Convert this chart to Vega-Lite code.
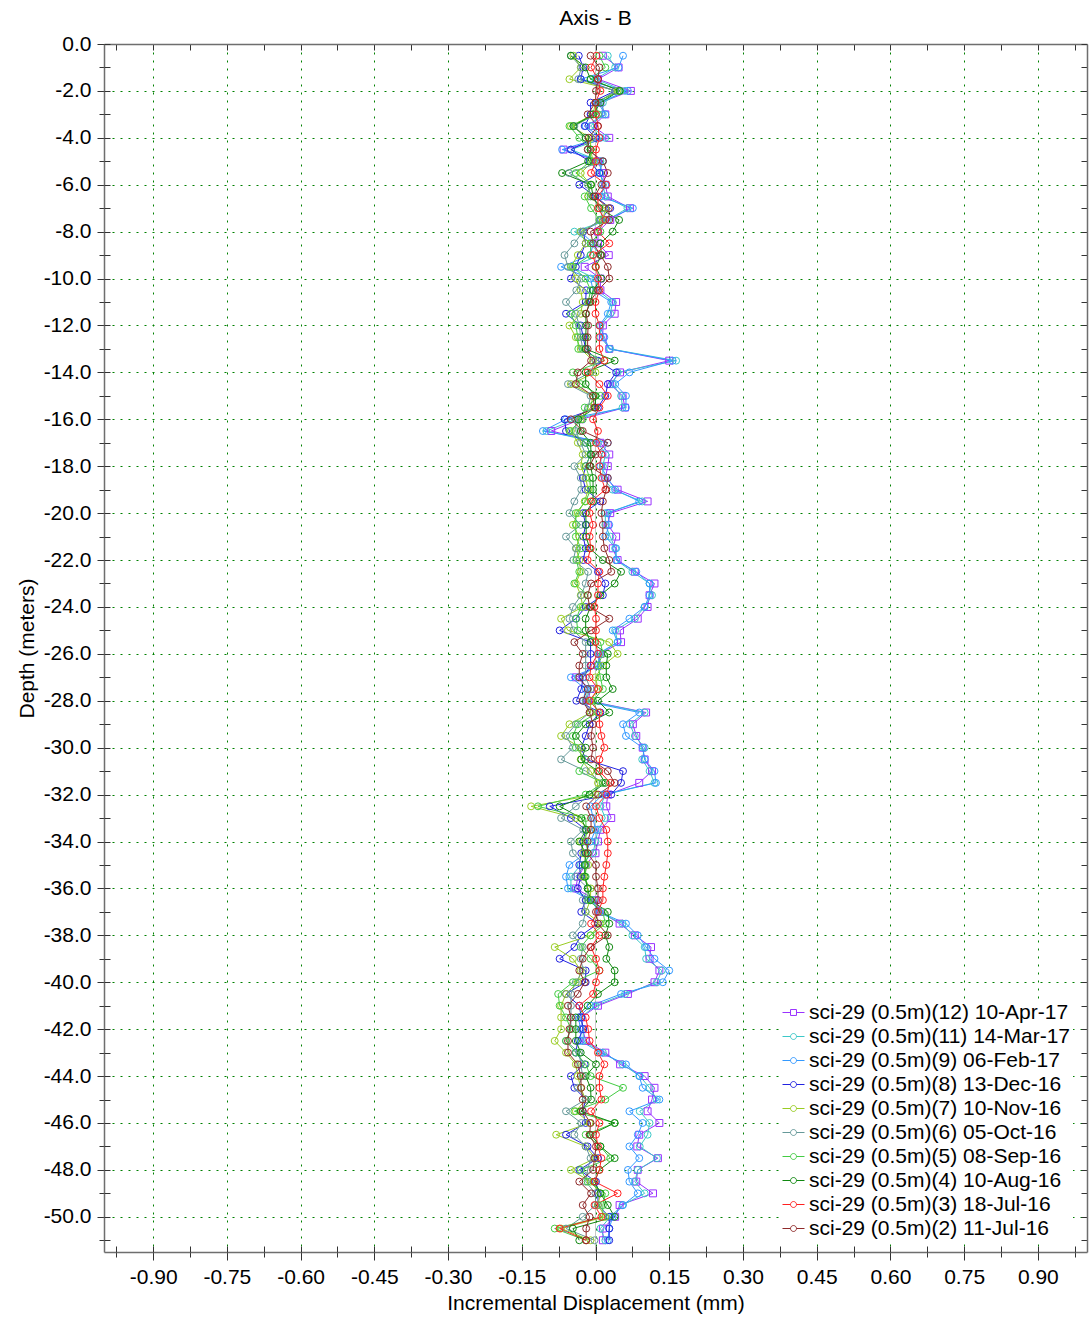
{
"$schema":"https://vega.github.io/schema/vega-lite/v6.json",
"width":983,"height":1208,
"autosize":{"type":"none"},
"padding":{"left":104,"top":44,"right":2,"bottom":66},
"background":"white",
"title":{"text":"Axis - B","fontSize":21,"fontWeight":"normal","font":"Liberation Sans","color":"#000","offset":4,"anchor":"middle"},
"config":{"font":"Liberation Sans","view":{"stroke":null},
"locale":{"number":{"decimal":".","thousands":",","grouping":[3],"currency":["$",""],"minus":"-"}},
"axis":{"labelFont":"Liberation Sans","labelFontSize":21,"labelColor":"#000","titleFont":"Liberation Sans","titleFontSize":21,"titleFontWeight":"normal","titleColor":"#000","tickColor":"#333","domainColor":"#6e6e6e","gridColor":"#008000","gridDash":[2,6],"gridOpacity":1,"grid":false,"labelFlush":false,"labelOverlap":false},
"legend":{"orient":"none","legendX":676,"legendY":955,"title":null,"symbolType":"M-1,0H-0.27M0.27,0H1M0.27,0A0.27,0.27,0,1,1,-0.27,0A0.27,0.27,0,1,1,0.27,0Z","symbolSize":484,"symbolStrokeWidth":1,"labelFontSize":21,"labelFont":"Liberation Sans","labelColor":"#000","rowPadding":2,"labelOffset":4,"fillColor":"white","padding":2,"labelLimit":500}},
"datasets":{
"series":[{"s":12,"name":"sci-29 (0.5m)(12) 10-Apr-17"},{"s":11,"name":"sci-29 (0.5m)(11) 14-Mar-17"},{"s":9,"name":"sci-29 (0.5m)(9) 06-Feb-17"},{"s":8,"name":"sci-29 (0.5m)(8) 13-Dec-16"},{"s":7,"name":"sci-29 (0.5m)(7) 10-Nov-16"},{"s":6,"name":"sci-29 (0.5m)(6) 05-Oct-16"},{"s":5,"name":"sci-29 (0.5m)(5) 08-Sep-16"},{"s":4,"name":"sci-29 (0.5m)(4) 10-Aug-16"},{"s":3,"name":"sci-29 (0.5m)(3) 18-Jul-16"},{"s":2,"name":"sci-29 (0.5m)(2) 11-Jul-16"}],
"pts":[
{"s":12,"d":-0.5,"v":0.015},{"s":12,"d":-1,"v":0.047},{"s":12,"d":-1.5,"v":0.005},{"s":12,"d":-2,"v":0.072},{"s":12,"d":-2.5,"v":0.01},{"s":12,"d":-3,"v":0.02},{"s":12,"d":-3.5,"v":-0.005},{"s":12,"d":-4,"v":0.028},{"s":12,"d":-4.5,"v":-0.065},{"s":12,"d":-5,"v":0.005},
{"s":12,"d":-5.5,"v":0.015},{"s":12,"d":-6,"v":0.02},{"s":12,"d":-6.5,"v":0.025},{"s":12,"d":-7,"v":0.07},{"s":12,"d":-7.5,"v":0.03},{"s":12,"d":-8,"v":0.005},{"s":12,"d":-8.5,"v":0.005},{"s":12,"d":-9,"v":0.027},{"s":12,"d":-9.5,"v":-0.022},{"s":12,"d":-10,"v":0.01},
{"s":12,"d":-10.5,"v":0.01},{"s":12,"d":-11,"v":0.042},{"s":12,"d":-11.5,"v":0.039},{"s":12,"d":-12,"v":0.015},{"s":12,"d":-12.5,"v":0.015},{"s":12,"d":-13,"v":0.028},{"s":12,"d":-13.5,"v":0.15},{"s":12,"d":-14,"v":0.05},{"s":12,"d":-14.5,"v":0.03},{"s":12,"d":-15,"v":0.055},
{"s":12,"d":-15.5,"v":0.06},{"s":12,"d":-16,"v":-0.03},{"s":12,"d":-16.5,"v":-0.09},{"s":12,"d":-17,"v":0.01},{"s":12,"d":-17.5,"v":0.028},{"s":12,"d":-18,"v":0.025},{"s":12,"d":-18.5,"v":0.02},{"s":12,"d":-19,"v":0.045},{"s":12,"d":-19.5,"v":0.106},{"s":12,"d":-20,"v":0.03},
{"s":12,"d":-20.5,"v":0.025},{"s":12,"d":-21,"v":0.042},{"s":12,"d":-21.5,"v":0.035},{"s":12,"d":-22,"v":0.045},{"s":12,"d":-22.5,"v":0.08},{"s":12,"d":-23,"v":0.12},{"s":12,"d":-23.5,"v":0.11},{"s":12,"d":-24,"v":0.106},{"s":12,"d":-24.5,"v":0.086},{"s":12,"d":-25,"v":0.05},
{"s":12,"d":-25.5,"v":0.052},{"s":12,"d":-26,"v":0.01},{"s":12,"d":-26.5,"v":0.005},{"s":12,"d":-27,"v":-0.04},{"s":12,"d":-27.5,"v":-0.01},{"s":12,"d":-28,"v":-0.015},{"s":12,"d":-28.5,"v":0.103},{"s":12,"d":-29,"v":0.076},{"s":12,"d":-29.5,"v":0.083},{"s":12,"d":-30,"v":0.096},
{"s":12,"d":-30.5,"v":0.1},{"s":12,"d":-31,"v":0.115},{"s":12,"d":-31.5,"v":0.089},{"s":12,"d":-32,"v":0.025},{"s":12,"d":-32.5,"v":0.022},{"s":12,"d":-33,"v":0.032},{"s":12,"d":-33.5,"v":0.01},{"s":12,"d":-34,"v":0.005},{"s":12,"d":-34.5,"v":0},{"s":12,"d":-35,"v":-0.02},
{"s":12,"d":-35.5,"v":-0.036},{"s":12,"d":-36,"v":-0.04},{"s":12,"d":-36.5,"v":0},{"s":12,"d":-37,"v":0.01},{"s":12,"d":-37.5,"v":0.049},{"s":12,"d":-38,"v":0.08},{"s":12,"d":-38.5,"v":0.113},{"s":12,"d":-39,"v":0.11},{"s":12,"d":-39.5,"v":0.13},{"s":12,"d":-40,"v":0.12},
{"s":12,"d":-40.5,"v":0.066},{"s":12,"d":-41,"v":0.005},{"s":12,"d":-41.5,"v":-0.029},{"s":12,"d":-42,"v":-0.026},{"s":12,"d":-42.5,"v":-0.02},{"s":12,"d":-43,"v":0.02},{"s":12,"d":-43.5,"v":0.05},{"s":12,"d":-44,"v":0.1},{"s":12,"d":-44.5,"v":0.12},{"s":12,"d":-45,"v":0.115},
{"s":12,"d":-45.5,"v":0.106},{"s":12,"d":-46,"v":0.13},{"s":12,"d":-46.5,"v":0.089},{"s":12,"d":-47,"v":0.085},{"s":12,"d":-47.5,"v":0.127},{"s":12,"d":-48,"v":0.086},{"s":12,"d":-48.5,"v":0.083},{"s":12,"d":-49,"v":0.117},{"s":12,"d":-49.5,"v":0.049},{"s":12,"d":-50,"v":0.04},
{"s":12,"d":-50.5,"v":0.015},{"s":12,"d":-51,"v":0.015},
{"s":11,"d":-0.5,"v":0.025},{"s":11,"d":-1,"v":0.04},{"s":11,"d":-1.5,"v":0},{"s":11,"d":-2,"v":0.06},{"s":11,"d":-2.5,"v":0.015},{"s":11,"d":-3,"v":0.015},{"s":11,"d":-3.5,"v":-0.01},{"s":11,"d":-4,"v":0.02},{"s":11,"d":-4.5,"v":-0.05},{"s":11,"d":-5,"v":0.01},
{"s":11,"d":-5.5,"v":0.01},{"s":11,"d":-6,"v":0.015},{"s":11,"d":-6.5,"v":0.02},{"s":11,"d":-7,"v":0.065},{"s":11,"d":-7.5,"v":0.025},{"s":11,"d":-8,"v":-0.043},{"s":11,"d":-8.5,"v":-0.01},{"s":11,"d":-9,"v":0.01},{"s":11,"d":-9.5,"v":-0.05},{"s":11,"d":-10,"v":0},
{"s":11,"d":-10.5,"v":0.005},{"s":11,"d":-11,"v":0.035},{"s":11,"d":-11.5,"v":0.03},{"s":11,"d":-12,"v":0.01},{"s":11,"d":-12.5,"v":0.01},{"s":11,"d":-13,"v":0.03},{"s":11,"d":-13.5,"v":0.164},{"s":11,"d":-14,"v":0.045},{"s":11,"d":-14.5,"v":0.035},{"s":11,"d":-15,"v":0.052},
{"s":11,"d":-15.5,"v":0.055},{"s":11,"d":-16,"v":-0.04},{"s":11,"d":-16.5,"v":-0.1},{"s":11,"d":-17,"v":0.005},{"s":11,"d":-17.5,"v":0.02},{"s":11,"d":-18,"v":0.015},{"s":11,"d":-18.5,"v":0.015},{"s":11,"d":-19,"v":0.035},{"s":11,"d":-19.5,"v":0.095},{"s":11,"d":-20,"v":0.02},
{"s":11,"d":-20.5,"v":0.02},{"s":11,"d":-21,"v":0.03},{"s":11,"d":-21.5,"v":0.04},{"s":11,"d":-22,"v":0.042},{"s":11,"d":-22.5,"v":0.075},{"s":11,"d":-23,"v":0.11},{"s":11,"d":-23.5,"v":0.115},{"s":11,"d":-24,"v":0.1},{"s":11,"d":-24.5,"v":0.08},{"s":11,"d":-25,"v":0.04},
{"s":11,"d":-25.5,"v":0.045},{"s":11,"d":-26,"v":0.008},{"s":11,"d":-26.5,"v":0.005},{"s":11,"d":-27,"v":-0.035},{"s":11,"d":-27.5,"v":-0.015},{"s":11,"d":-28,"v":-0.02},{"s":11,"d":-28.5,"v":0.1},{"s":11,"d":-29,"v":0.07},{"s":11,"d":-29.5,"v":0.08},{"s":11,"d":-30,"v":0.1},
{"s":11,"d":-30.5,"v":0.095},{"s":11,"d":-31,"v":0.11},{"s":11,"d":-31.5,"v":0.12},{"s":11,"d":-32,"v":0.02},{"s":11,"d":-32.5,"v":0.01},{"s":11,"d":-33,"v":0.02},{"s":11,"d":-33.5,"v":0.005},{"s":11,"d":-34,"v":0},{"s":11,"d":-34.5,"v":-0.005},{"s":11,"d":-35,"v":-0.03},
{"s":11,"d":-35.5,"v":-0.05},{"s":11,"d":-36,"v":-0.05},{"s":11,"d":-36.5,"v":-0.005},{"s":11,"d":-37,"v":0.005},{"s":11,"d":-37.5,"v":0.055},{"s":11,"d":-38,"v":0.075},{"s":11,"d":-38.5,"v":0.1},{"s":11,"d":-39,"v":0.103},{"s":11,"d":-39.5,"v":0.135},{"s":11,"d":-40,"v":0.125},
{"s":11,"d":-40.5,"v":0.06},{"s":11,"d":-41,"v":0},{"s":11,"d":-41.5,"v":-0.03},{"s":11,"d":-42,"v":-0.025},{"s":11,"d":-42.5,"v":-0.025},{"s":11,"d":-43,"v":0.015},{"s":11,"d":-43.5,"v":0.055},{"s":11,"d":-44,"v":0.09},{"s":11,"d":-44.5,"v":0.11},{"s":11,"d":-45,"v":0.125},
{"s":11,"d":-45.5,"v":0.09},{"s":11,"d":-46,"v":0.11},{"s":11,"d":-46.5,"v":0.106},{"s":11,"d":-47,"v":0.09},{"s":11,"d":-47.5,"v":0.125},{"s":11,"d":-48,"v":0.086},{"s":11,"d":-48.5,"v":0.08},{"s":11,"d":-49,"v":0.1},{"s":11,"d":-49.5,"v":0.055},{"s":11,"d":-50,"v":0.03},
{"s":11,"d":-50.5,"v":0.01},{"s":11,"d":-51,"v":0.02},
{"s":9,"d":-0.5,"v":0.056},{"s":9,"d":-1,"v":0.047},{"s":9,"d":-1.5,"v":-0.03},{"s":9,"d":-2,"v":0.066},{"s":9,"d":-2.5,"v":0.005},{"s":9,"d":-3,"v":0.02},{"s":9,"d":-3.5,"v":-0.02},{"s":9,"d":-4,"v":0.01},{"s":9,"d":-4.5,"v":-0.068},{"s":9,"d":-5,"v":0.015},
{"s":9,"d":-5.5,"v":0.008},{"s":9,"d":-6,"v":0.02},{"s":9,"d":-6.5,"v":0.01},{"s":9,"d":-7,"v":0.076},{"s":9,"d":-7.5,"v":0.02},{"s":9,"d":-8,"v":-0.03},{"s":9,"d":-8.5,"v":-0.005},{"s":9,"d":-9,"v":-0.01},{"s":9,"d":-9.5,"v":-0.07},{"s":9,"d":-10,"v":-0.01},
{"s":9,"d":-10.5,"v":-0.005},{"s":9,"d":-11,"v":0.032},{"s":9,"d":-11.5,"v":0.025},{"s":9,"d":-12,"v":0.008},{"s":9,"d":-12.5,"v":0.018},{"s":9,"d":-13,"v":0.028},{"s":9,"d":-13.5,"v":0.157},{"s":9,"d":-14,"v":0.069},{"s":9,"d":-14.5,"v":0.04},{"s":9,"d":-15,"v":0.062},
{"s":9,"d":-15.5,"v":0.062},{"s":9,"d":-16,"v":-0.06},{"s":9,"d":-16.5,"v":-0.107},{"s":9,"d":-17,"v":0.025},{"s":9,"d":-17.5,"v":0.012},{"s":9,"d":-18,"v":0.01},{"s":9,"d":-18.5,"v":0.025},{"s":9,"d":-19,"v":0.04},{"s":9,"d":-19.5,"v":0.089},{"s":9,"d":-20,"v":0.025},
{"s":9,"d":-20.5,"v":0.028},{"s":9,"d":-21,"v":0.02},{"s":9,"d":-21.5,"v":0.042},{"s":9,"d":-22,"v":0.042},{"s":9,"d":-22.5,"v":0.083},{"s":9,"d":-23,"v":0.11},{"s":9,"d":-23.5,"v":0.11},{"s":9,"d":-24,"v":0.1},{"s":9,"d":-24.5,"v":0.069},{"s":9,"d":-25,"v":0.035},
{"s":9,"d":-25.5,"v":0.045},{"s":9,"d":-26,"v":0.005},{"s":9,"d":-26.5,"v":0.01},{"s":9,"d":-27,"v":-0.05},{"s":9,"d":-27.5,"v":-0.02},{"s":9,"d":-28,"v":-0.025},{"s":9,"d":-28.5,"v":0.089},{"s":9,"d":-29,"v":0.056},{"s":9,"d":-29.5,"v":0.062},{"s":9,"d":-30,"v":0.096},
{"s":9,"d":-30.5,"v":0.1},{"s":9,"d":-31,"v":0.12},{"s":9,"d":-31.5,"v":0.123},{"s":9,"d":-32,"v":0.015},{"s":9,"d":-32.5,"v":-0.01},{"s":9,"d":-33,"v":-0.005},{"s":9,"d":-33.5,"v":0},{"s":9,"d":-34,"v":-0.01},{"s":9,"d":-34.5,"v":-0.02},{"s":9,"d":-35,"v":-0.053},
{"s":9,"d":-35.5,"v":-0.06},{"s":9,"d":-36,"v":-0.056},{"s":9,"d":-36.5,"v":-0.01},{"s":9,"d":-37,"v":0.008},{"s":9,"d":-37.5,"v":0.062},{"s":9,"d":-38,"v":0.086},{"s":9,"d":-38.5,"v":0.103},{"s":9,"d":-39,"v":0.12},{"s":9,"d":-39.5,"v":0.15},{"s":9,"d":-40,"v":0.137},
{"s":9,"d":-40.5,"v":0.052},{"s":9,"d":-41,"v":-0.01},{"s":9,"d":-41.5,"v":-0.035},{"s":9,"d":-42,"v":-0.03},{"s":9,"d":-42.5,"v":-0.03},{"s":9,"d":-43,"v":0.01},{"s":9,"d":-43.5,"v":0.062},{"s":9,"d":-44,"v":0.089},{"s":9,"d":-44.5,"v":0.096},{"s":9,"d":-45,"v":0.13},
{"s":9,"d":-45.5,"v":0.069},{"s":9,"d":-46,"v":0.096},{"s":9,"d":-46.5,"v":0.086},{"s":9,"d":-47,"v":0.069},{"s":9,"d":-47.5,"v":0.089},{"s":9,"d":-48,"v":0.066},{"s":9,"d":-48.5,"v":0.069},{"s":9,"d":-49,"v":0.086},{"s":9,"d":-49.5,"v":0.056},{"s":9,"d":-50,"v":0.035},
{"s":9,"d":-50.5,"v":0.028},{"s":9,"d":-51,"v":0.025},
{"s":8,"d":-0.5,"v":-0.034},{"s":8,"d":-1,"v":-0.025},{"s":8,"d":-1.5,"v":-0.03},{"s":8,"d":-2,"v":0.04},{"s":8,"d":-2.5,"v":-0.01},{"s":8,"d":-3,"v":-0.01},{"s":8,"d":-3.5,"v":-0.022},{"s":8,"d":-4,"v":0},{"s":8,"d":-4.5,"v":-0.05},{"s":8,"d":-5,"v":-0.012},
{"s":8,"d":-5.5,"v":0.008},{"s":8,"d":-6,"v":-0.033},{"s":8,"d":-6.5,"v":0},{"s":8,"d":-7,"v":0.03},{"s":8,"d":-7.5,"v":0.01},{"s":8,"d":-8,"v":-0.025},{"s":8,"d":-8.5,"v":-0.02},{"s":8,"d":-9,"v":-0.03},{"s":8,"d":-9.5,"v":-0.04},{"s":8,"d":-10,"v":-0.05},
{"s":8,"d":-10.5,"v":-0.019},{"s":8,"d":-11,"v":-0.02},{"s":8,"d":-11.5,"v":-0.06},{"s":8,"d":-12,"v":-0.03},{"s":8,"d":-12.5,"v":-0.025},{"s":8,"d":-13,"v":-0.02},{"s":8,"d":-13.5,"v":0.005},{"s":8,"d":-14,"v":0.042},{"s":8,"d":-14.5,"v":0.025},{"s":8,"d":-15,"v":0.02},
{"s":8,"d":-15.5,"v":0.005},{"s":8,"d":-16,"v":-0.063},{"s":8,"d":-16.5,"v":-0.06},{"s":8,"d":-17,"v":-0.02},{"s":8,"d":-17.5,"v":-0.01},{"s":8,"d":-18,"v":-0.02},{"s":8,"d":-18.5,"v":-0.026},{"s":8,"d":-19,"v":-0.02},{"s":8,"d":-19.5,"v":0.01},{"s":8,"d":-20,"v":-0.025},
{"s":8,"d":-20.5,"v":-0.02},{"s":8,"d":-21,"v":-0.025},{"s":8,"d":-21.5,"v":-0.02},{"s":8,"d":-22,"v":-0.025},{"s":8,"d":-22.5,"v":0.005},{"s":8,"d":-23,"v":0.02},{"s":8,"d":-23.5,"v":0.015},{"s":8,"d":-24,"v":-0.02},{"s":8,"d":-24.5,"v":-0.04},{"s":8,"d":-25,"v":-0.073},
{"s":8,"d":-25.5,"v":-0.01},{"s":8,"d":-26,"v":-0.01},{"s":8,"d":-26.5,"v":-0.01},{"s":8,"d":-27,"v":-0.025},{"s":8,"d":-27.5,"v":-0.029},{"s":8,"d":-28,"v":-0.039},{"s":8,"d":-28.5,"v":0.01},{"s":8,"d":-29,"v":-0.012},{"s":8,"d":-29.5,"v":-0.02},{"s":8,"d":-30,"v":-0.029},
{"s":8,"d":-30.5,"v":-0.02},{"s":8,"d":-31,"v":0.056},{"s":8,"d":-31.5,"v":0.052},{"s":8,"d":-32,"v":0.032},{"s":8,"d":-32.5,"v":-0.093},{"s":8,"d":-33,"v":-0.05},{"s":8,"d":-33.5,"v":-0.02},{"s":8,"d":-34,"v":-0.025},{"s":8,"d":-34.5,"v":-0.029},{"s":8,"d":-35,"v":-0.033},
{"s":8,"d":-35.5,"v":-0.03},{"s":8,"d":-36,"v":-0.036},{"s":8,"d":-36.5,"v":-0.02},{"s":8,"d":-37,"v":-0.029},{"s":8,"d":-37.5,"v":0.005},{"s":8,"d":-38,"v":-0.029},{"s":8,"d":-38.5,"v":-0.043},{"s":8,"d":-39,"v":-0.073},{"s":8,"d":-39.5,"v":-0.02},{"s":8,"d":-40,"v":-0.02},
{"s":8,"d":-40.5,"v":-0.06},{"s":8,"d":-41,"v":-0.033},{"s":8,"d":-41.5,"v":-0.029},{"s":8,"d":-42,"v":-0.025},{"s":8,"d":-42.5,"v":-0.036},{"s":8,"d":-43,"v":-0.04},{"s":8,"d":-43.5,"v":-0.022},{"s":8,"d":-44,"v":-0.05},{"s":8,"d":-44.5,"v":-0.043},{"s":8,"d":-45,"v":-0.02},
{"s":8,"d":-45.5,"v":-0.026},{"s":8,"d":-46,"v":-0.02},{"s":8,"d":-46.5,"v":-0.06},{"s":8,"d":-47,"v":-0.016},{"s":8,"d":-47.5,"v":0.005},{"s":8,"d":-48,"v":-0.033},{"s":8,"d":-48.5,"v":0.001},{"s":8,"d":-49,"v":0.005},{"s":8,"d":-49.5,"v":0.005},{"s":8,"d":-50,"v":0.028},
{"s":8,"d":-50.5,"v":0.028},{"s":8,"d":-51,"v":0.028},
{"s":7,"d":-0.5,"v":-0.045},{"s":7,"d":-1,"v":-0.03},{"s":7,"d":-1.5,"v":-0.053},{"s":7,"d":-2,"v":0.045},{"s":7,"d":-2.5,"v":0},{"s":7,"d":-3,"v":-0.005},{"s":7,"d":-3.5,"v":-0.05},{"s":7,"d":-4,"v":-0.01},{"s":7,"d":-4.5,"v":-0.01},{"s":7,"d":-5,"v":-0.005},
{"s":7,"d":-5.5,"v":-0.03},{"s":7,"d":-6,"v":-0.01},{"s":7,"d":-6.5,"v":-0.015},{"s":7,"d":-7,"v":0.02},{"s":7,"d":-7.5,"v":0.015},{"s":7,"d":-8,"v":-0.03},{"s":7,"d":-8.5,"v":-0.02},{"s":7,"d":-9,"v":-0.036},{"s":7,"d":-9.5,"v":-0.05},{"s":7,"d":-10,"v":-0.04},
{"s":7,"d":-10.5,"v":-0.03},{"s":7,"d":-11,"v":-0.026},{"s":7,"d":-11.5,"v":-0.03},{"s":7,"d":-12,"v":-0.053},{"s":7,"d":-12.5,"v":-0.04},{"s":7,"d":-13,"v":-0.03},{"s":7,"d":-13.5,"v":-0.005},{"s":7,"d":-14,"v":0},{"s":7,"d":-14.5,"v":-0.05},{"s":7,"d":-15,"v":-0.005},
{"s":7,"d":-15.5,"v":-0.01},{"s":7,"d":-16,"v":-0.03},{"s":7,"d":-16.5,"v":-0.05},{"s":7,"d":-17,"v":-0.036},{"s":7,"d":-17.5,"v":-0.026},{"s":7,"d":-18,"v":-0.03},{"s":7,"d":-18.5,"v":-0.02},{"s":7,"d":-19,"v":-0.015},{"s":7,"d":-19.5,"v":-0.022},{"s":7,"d":-20,"v":-0.036},
{"s":7,"d":-20.5,"v":-0.046},{"s":7,"d":-21,"v":-0.033},{"s":7,"d":-21.5,"v":-0.039},{"s":7,"d":-22,"v":-0.033},{"s":7,"d":-22.5,"v":-0.03},{"s":7,"d":-23,"v":-0.04},{"s":7,"d":-23.5,"v":-0.03},{"s":7,"d":-24,"v":-0.026},{"s":7,"d":-24.5,"v":-0.07},{"s":7,"d":-25,"v":-0.056},
{"s":7,"d":-25.5,"v":0.028},{"s":7,"d":-26,"v":0.045},{"s":7,"d":-26.5,"v":0.015},{"s":7,"d":-27,"v":0},{"s":7,"d":-27.5,"v":0.005},{"s":7,"d":-28,"v":-0.01},{"s":7,"d":-28.5,"v":-0.01},{"s":7,"d":-29,"v":-0.053},{"s":7,"d":-29.5,"v":-0.07},{"s":7,"d":-30,"v":-0.03},
{"s":7,"d":-30.5,"v":-0.03},{"s":7,"d":-31,"v":-0.01},{"s":7,"d":-31.5,"v":0.005},{"s":7,"d":-32,"v":0},{"s":7,"d":-32.5,"v":-0.131},{"s":7,"d":-33,"v":-0.04},{"s":7,"d":-33.5,"v":-0.01},{"s":7,"d":-34,"v":-0.03},{"s":7,"d":-34.5,"v":-0.025},{"s":7,"d":-35,"v":-0.015},
{"s":7,"d":-35.5,"v":-0.025},{"s":7,"d":-36,"v":-0.01},{"s":7,"d":-36.5,"v":-0.01},{"s":7,"d":-37,"v":-0.02},{"s":7,"d":-37.5,"v":0.01},{"s":7,"d":-38,"v":-0.01},{"s":7,"d":-38.5,"v":-0.083},{"s":7,"d":-39,"v":-0.046},{"s":7,"d":-39.5,"v":-0.03},{"s":7,"d":-40,"v":-0.036},
{"s":7,"d":-40.5,"v":-0.06},{"s":7,"d":-41,"v":-0.07},{"s":7,"d":-41.5,"v":-0.07},{"s":7,"d":-42,"v":-0.07},{"s":7,"d":-42.5,"v":-0.083},{"s":7,"d":-43,"v":-0.06},{"s":7,"d":-43.5,"v":-0.04},{"s":7,"d":-44,"v":-0.036},{"s":7,"d":-44.5,"v":-0.03},{"s":7,"d":-45,"v":-0.02},
{"s":7,"d":-45.5,"v":-0.04},{"s":7,"d":-46,"v":-0.012},{"s":7,"d":-46.5,"v":-0.08},{"s":7,"d":-47,"v":-0.02},{"s":7,"d":-47.5,"v":0},{"s":7,"d":-48,"v":-0.05},{"s":7,"d":-48.5,"v":-0.01},{"s":7,"d":-49,"v":0.01},{"s":7,"d":-49.5,"v":0.005},{"s":7,"d":-50,"v":0.02},
{"s":7,"d":-50.5,"v":-0.07},{"s":7,"d":-51,"v":-0.01},
{"s":6,"d":-0.5,"v":-0.05},{"s":6,"d":-1,"v":-0.029},{"s":6,"d":-1.5,"v":-0.035},{"s":6,"d":-2,"v":0.04},{"s":6,"d":-2.5,"v":0.005},{"s":6,"d":-3,"v":0},{"s":6,"d":-3.5,"v":-0.043},{"s":6,"d":-4,"v":-0.02},{"s":6,"d":-4.5,"v":-0.015},{"s":6,"d":-5,"v":0.015},
{"s":6,"d":-5.5,"v":-0.054},{"s":6,"d":-6,"v":-0.015},{"s":6,"d":-6.5,"v":-0.01},{"s":6,"d":-7,"v":0.015},{"s":6,"d":-7.5,"v":0.01},{"s":6,"d":-8,"v":-0.026},{"s":6,"d":-8.5,"v":-0.043},{"s":6,"d":-9,"v":-0.063},{"s":6,"d":-9.5,"v":-0.056},{"s":6,"d":-10,"v":-0.029},
{"s":6,"d":-10.5,"v":-0.039},{"s":6,"d":-11,"v":-0.06},{"s":6,"d":-11.5,"v":-0.04},{"s":6,"d":-12,"v":-0.033},{"s":6,"d":-12.5,"v":-0.03},{"s":6,"d":-13,"v":-0.026},{"s":6,"d":-13.5,"v":0},{"s":6,"d":-14,"v":-0.01},{"s":6,"d":-14.5,"v":-0.056},{"s":6,"d":-15,"v":-0.01},
{"s":6,"d":-15.5,"v":-0.015},{"s":6,"d":-16,"v":-0.04},{"s":6,"d":-16.5,"v":-0.04},{"s":6,"d":-17,"v":-0.03},{"s":6,"d":-17.5,"v":-0.02},{"s":6,"d":-18,"v":-0.043},{"s":6,"d":-18.5,"v":-0.03},{"s":6,"d":-19,"v":-0.029},{"s":6,"d":-19.5,"v":-0.043},{"s":6,"d":-20,"v":-0.053},
{"s":6,"d":-20.5,"v":-0.03},{"s":6,"d":-21,"v":-0.06},{"s":6,"d":-21.5,"v":-0.04},{"s":6,"d":-22,"v":-0.045},{"s":6,"d":-22.5,"v":-0.015},{"s":6,"d":-23,"v":-0.02},{"s":6,"d":-23.5,"v":-0.029},{"s":6,"d":-24,"v":-0.046},{"s":6,"d":-24.5,"v":-0.053},{"s":6,"d":-25,"v":-0.045},
{"s":6,"d":-25.5,"v":-0.02},{"s":6,"d":-26,"v":-0.02},{"s":6,"d":-26.5,"v":-0.02},{"s":6,"d":-27,"v":-0.02},{"s":6,"d":-27.5,"v":-0.01},{"s":6,"d":-28,"v":-0.02},{"s":6,"d":-28.5,"v":-0.012},{"s":6,"d":-29,"v":-0.04},{"s":6,"d":-29.5,"v":-0.06},{"s":6,"d":-30,"v":-0.046},
{"s":6,"d":-30.5,"v":-0.07},{"s":6,"d":-31,"v":-0.02},{"s":6,"d":-31.5,"v":0.015},{"s":6,"d":-32,"v":-0.012},{"s":6,"d":-32.5,"v":-0.04},{"s":6,"d":-33,"v":-0.07},{"s":6,"d":-33.5,"v":-0.025},{"s":6,"d":-34,"v":-0.05},{"s":6,"d":-34.5,"v":-0.046},{"s":6,"d":-35,"v":-0.022},
{"s":6,"d":-35.5,"v":-0.04},{"s":6,"d":-36,"v":-0.015},{"s":6,"d":-36.5,"v":-0.026},{"s":6,"d":-37,"v":-0.02},{"s":6,"d":-37.5,"v":-0.026},{"s":6,"d":-38,"v":-0.046},{"s":6,"d":-38.5,"v":-0.026},{"s":6,"d":-39,"v":-0.03},{"s":6,"d":-39.5,"v":-0.025},{"s":6,"d":-40,"v":-0.04},
{"s":6,"d":-40.5,"v":-0.05},{"s":6,"d":-41,"v":-0.05},{"s":6,"d":-41.5,"v":-0.05},{"s":6,"d":-42,"v":-0.05},{"s":6,"d":-42.5,"v":-0.06},{"s":6,"d":-43,"v":-0.033},{"s":6,"d":-43.5,"v":-0.03},{"s":6,"d":-44,"v":-0.026},{"s":6,"d":-44.5,"v":-0.036},{"s":6,"d":-45,"v":-0.02},
{"s":6,"d":-45.5,"v":-0.06},{"s":6,"d":-46,"v":-0.029},{"s":6,"d":-46.5,"v":-0.043},{"s":6,"d":-47,"v":-0.02},{"s":6,"d":-47.5,"v":-0.01},{"s":6,"d":-48,"v":-0.016},{"s":6,"d":-48.5,"v":-0.02},{"s":6,"d":-49,"v":0},{"s":6,"d":-49.5,"v":0},{"s":6,"d":-50,"v":-0.026},
{"s":6,"d":-50.5,"v":-0.06},{"s":6,"d":-51,"v":-0.002},
{"s":5,"d":-0.5,"v":0.008},{"s":5,"d":-1,"v":0.02},{"s":5,"d":-1.5,"v":-0.01},{"s":5,"d":-2,"v":0.05},{"s":5,"d":-2.5,"v":0},{"s":5,"d":-3,"v":0.005},{"s":5,"d":-3.5,"v":-0.053},{"s":5,"d":-4,"v":-0.033},{"s":5,"d":-4.5,"v":-0.01},{"s":5,"d":-5,"v":-0.01},
{"s":5,"d":-5.5,"v":-0.04},{"s":5,"d":-6,"v":-0.009},{"s":5,"d":-6.5,"v":-0.022},{"s":5,"d":-7,"v":-0.009},{"s":5,"d":-7.5,"v":0.008},{"s":5,"d":-8,"v":0.01},{"s":5,"d":-8.5,"v":-0.01},{"s":5,"d":-9,"v":-0.01},{"s":5,"d":-9.5,"v":-0.046},{"s":5,"d":-10,"v":-0.02},
{"s":5,"d":-10.5,"v":-0.01},{"s":5,"d":-11,"v":-0.015},{"s":5,"d":-11.5,"v":-0.05},{"s":5,"d":-12,"v":-0.04},{"s":5,"d":-12.5,"v":-0.036},{"s":5,"d":-13,"v":-0.035},{"s":5,"d":-13.5,"v":0.018},{"s":5,"d":-14,"v":-0.046},{"s":5,"d":-14.5,"v":-0.03},{"s":5,"d":-15,"v":0.01},
{"s":5,"d":-15.5,"v":-0.022},{"s":5,"d":-16,"v":-0.026},{"s":5,"d":-16.5,"v":-0.053},{"s":5,"d":-17,"v":-0.02},{"s":5,"d":-17.5,"v":-0.01},{"s":5,"d":-18,"v":-0.02},{"s":5,"d":-18.5,"v":-0.012},{"s":5,"d":-19,"v":-0.01},{"s":5,"d":-19.5,"v":-0.02},{"s":5,"d":-20,"v":-0.04},
{"s":5,"d":-20.5,"v":-0.04},{"s":5,"d":-21,"v":-0.04},{"s":5,"d":-21.5,"v":-0.03},{"s":5,"d":-22,"v":-0.039},{"s":5,"d":-22.5,"v":-0.033},{"s":5,"d":-23,"v":-0.043},{"s":5,"d":-23.5,"v":-0.015},{"s":5,"d":-24,"v":-0.03},{"s":5,"d":-24.5,"v":-0.039},{"s":5,"d":-25,"v":-0.036},
{"s":5,"d":-25.5,"v":0.01},{"s":5,"d":-26,"v":0.015},{"s":5,"d":-26.5,"v":0.005},{"s":5,"d":-27,"v":0.01},{"s":5,"d":-27.5,"v":0.015},{"s":5,"d":-28,"v":-0.005},{"s":5,"d":-28.5,"v":0.005},{"s":5,"d":-29,"v":-0.036},{"s":5,"d":-29.5,"v":-0.046},{"s":5,"d":-30,"v":-0.04},
{"s":5,"d":-30.5,"v":-0.02},{"s":5,"d":-31,"v":-0.033},{"s":5,"d":-31.5,"v":0.015},{"s":5,"d":-32,"v":-0.02},{"s":5,"d":-32.5,"v":-0.117},{"s":5,"d":-33,"v":-0.02},{"s":5,"d":-33.5,"v":-0.019},{"s":5,"d":-34,"v":-0.02},{"s":5,"d":-34.5,"v":-0.015},{"s":5,"d":-35,"v":-0.02},
{"s":5,"d":-35.5,"v":-0.02},{"s":5,"d":-36,"v":-0.016},{"s":5,"d":-36.5,"v":-0.015},{"s":5,"d":-37,"v":0.015},{"s":5,"d":-37.5,"v":0.02},{"s":5,"d":-38,"v":-0.01},{"s":5,"d":-38.5,"v":-0.03},{"s":5,"d":-39,"v":-0.01},{"s":5,"d":-39.5,"v":0.008},{"s":5,"d":-40,"v":-0.046},
{"s":5,"d":-40.5,"v":-0.076},{"s":5,"d":-41,"v":-0.073},{"s":5,"d":-41.5,"v":-0.06},{"s":5,"d":-42,"v":-0.05},{"s":5,"d":-42.5,"v":-0.06},{"s":5,"d":-43,"v":-0.04},{"s":5,"d":-43.5,"v":-0.02},{"s":5,"d":-44,"v":-0.01},{"s":5,"d":-44.5,"v":0.056},{"s":5,"d":-45,"v":0.02},
{"s":5,"d":-45.5,"v":-0.043},{"s":5,"d":-46,"v":0.039},{"s":5,"d":-46.5,"v":-0.02},{"s":5,"d":-47,"v":0.01},{"s":5,"d":-47.5,"v":0.03},{"s":5,"d":-48,"v":-0.03},{"s":5,"d":-48.5,"v":-0.016},{"s":5,"d":-49,"v":0.02},{"s":5,"d":-49.5,"v":0.015},{"s":5,"d":-50,"v":0.015},
{"s":5,"d":-50.5,"v":-0.083},{"s":5,"d":-51,"v":-0.02},
{"s":4,"d":-0.5,"v":-0.05},{"s":4,"d":-1,"v":-0.02},{"s":4,"d":-1.5,"v":-0.01},{"s":4,"d":-2,"v":0.049},{"s":4,"d":-2.5,"v":0.01},{"s":4,"d":-3,"v":-0.005},{"s":4,"d":-3.5,"v":-0.045},{"s":4,"d":-4,"v":-0.02},{"s":4,"d":-4.5,"v":-0.01},{"s":4,"d":-5,"v":-0.015},
{"s":4,"d":-5.5,"v":-0.068},{"s":4,"d":-6,"v":-0.009},{"s":4,"d":-6.5,"v":-0.005},{"s":4,"d":-7,"v":0.008},{"s":4,"d":-7.5,"v":0.048},{"s":4,"d":-8,"v":0.035},{"s":4,"d":-8.5,"v":0.01},{"s":4,"d":-9,"v":0.012},{"s":4,"d":-9.5,"v":0},{"s":4,"d":-10,"v":0.012},
{"s":4,"d":-10.5,"v":-0.005},{"s":4,"d":-11,"v":-0.01},{"s":4,"d":-11.5,"v":-0.02},{"s":4,"d":-12,"v":-0.019},{"s":4,"d":-12.5,"v":-0.02},{"s":4,"d":-13,"v":-0.02},{"s":4,"d":-13.5,"v":0.039},{"s":4,"d":-14,"v":-0.02},{"s":4,"d":-14.5,"v":-0.02},{"s":4,"d":-15,"v":0},
{"s":4,"d":-15.5,"v":0},{"s":4,"d":-16,"v":-0.035},{"s":4,"d":-16.5,"v":-0.03},{"s":4,"d":-17,"v":-0.01},{"s":4,"d":-17.5,"v":-0.009},{"s":4,"d":-18,"v":-0.01},{"s":4,"d":-18.5,"v":-0.005},{"s":4,"d":-19,"v":-0.005},{"s":4,"d":-19.5,"v":-0.005},{"s":4,"d":-20,"v":-0.02},
{"s":4,"d":-20.5,"v":-0.019},{"s":4,"d":-21,"v":-0.019},{"s":4,"d":-21.5,"v":-0.012},{"s":4,"d":-22,"v":0.015},{"s":4,"d":-22.5,"v":0.052},{"s":4,"d":-23,"v":0.039},{"s":4,"d":-23.5,"v":0.01},{"s":4,"d":-24,"v":-0.01},{"s":4,"d":-24.5,"v":-0.02},{"s":4,"d":-25,"v":-0.02},
{"s":4,"d":-25.5,"v":-0.01},{"s":4,"d":-26,"v":0.025},{"s":4,"d":-26.5,"v":0.022},{"s":4,"d":-27,"v":0.022},{"s":4,"d":-27.5,"v":0.035},{"s":4,"d":-28,"v":0.005},{"s":4,"d":-28.5,"v":0.028},{"s":4,"d":-29,"v":-0.02},{"s":4,"d":-29.5,"v":-0.04},{"s":4,"d":-30,"v":-0.02},
{"s":4,"d":-30.5,"v":-0.029},{"s":4,"d":-31,"v":0.005},{"s":4,"d":-31.5,"v":0.02},{"s":4,"d":-32,"v":-0.012},{"s":4,"d":-32.5,"v":-0.073},{"s":4,"d":-33,"v":-0.029},{"s":4,"d":-33.5,"v":-0.019},{"s":4,"d":-34,"v":-0.033},{"s":4,"d":-34.5,"v":-0.02},{"s":4,"d":-35,"v":-0.022},
{"s":4,"d":-35.5,"v":-0.022},{"s":4,"d":-36,"v":-0.016},{"s":4,"d":-36.5,"v":-0.01},{"s":4,"d":-37,"v":0.025},{"s":4,"d":-37.5,"v":0.028},{"s":4,"d":-38,"v":0.02},{"s":4,"d":-38.5,"v":0.028},{"s":4,"d":-39,"v":0.022},{"s":4,"d":-39.5,"v":0.039},{"s":4,"d":-40,"v":0.039},
{"s":4,"d":-40.5,"v":0.005},{"s":4,"d":-41,"v":-0.016},{"s":4,"d":-41.5,"v":-0.04},{"s":4,"d":-42,"v":-0.04},{"s":4,"d":-42.5,"v":-0.04},{"s":4,"d":-43,"v":-0.03},{"s":4,"d":-43.5,"v":0.001},{"s":4,"d":-44,"v":-0.02},{"s":4,"d":-44.5,"v":-0.01},{"s":4,"d":-45,"v":-0.009},
{"s":4,"d":-45.5,"v":-0.03},{"s":4,"d":-46,"v":0.039},{"s":4,"d":-46.5,"v":-0.01},{"s":4,"d":-47,"v":0.01},{"s":4,"d":-47.5,"v":0.039},{"s":4,"d":-48,"v":0.008},{"s":4,"d":-48.5,"v":-0.002},{"s":4,"d":-49,"v":0.01},{"s":4,"d":-49.5,"v":0.025},{"s":4,"d":-50,"v":0.039},
{"s":4,"d":-50.5,"v":-0.046},{"s":4,"d":-51,"v":-0.033},
{"s":3,"d":-0.5,"v":0.002},{"s":3,"d":-1,"v":-0.009},{"s":3,"d":-1.5,"v":0.005},{"s":3,"d":-2,"v":0.01},{"s":3,"d":-2.5,"v":0},{"s":3,"d":-3,"v":0.001},{"s":3,"d":-3.5,"v":0.005},{"s":3,"d":-4,"v":0.008},{"s":3,"d":-4.5,"v":0.001},{"s":3,"d":-5,"v":0.001},
{"s":3,"d":-5.5,"v":-0.009},{"s":3,"d":-6,"v":0.022},{"s":3,"d":-6.5,"v":0.005},{"s":3,"d":-7,"v":0.005},{"s":3,"d":-7.5,"v":0.02},{"s":3,"d":-8,"v":0.005},{"s":3,"d":-8.5,"v":0.028},{"s":3,"d":-9,"v":-0.005},{"s":3,"d":-9.5,"v":0.001},{"s":3,"d":-10,"v":0.005},
{"s":3,"d":-10.5,"v":0.008},{"s":3,"d":-11,"v":0},{"s":3,"d":-11.5,"v":0},{"s":3,"d":-12,"v":0.008},{"s":3,"d":-12.5,"v":0.008},{"s":3,"d":-13,"v":0.008},{"s":3,"d":-13.5,"v":0.018},{"s":3,"d":-14,"v":-0.016},{"s":3,"d":-14.5,"v":0.008},{"s":3,"d":-15,"v":0.025},
{"s":3,"d":-15.5,"v":0.008},{"s":3,"d":-16,"v":-0.005},{"s":3,"d":-16.5,"v":0.005},{"s":3,"d":-17,"v":0.001},{"s":3,"d":-17.5,"v":0.012},{"s":3,"d":-18,"v":0.008},{"s":3,"d":-18.5,"v":0.012},{"s":3,"d":-19,"v":0.02},{"s":3,"d":-19.5,"v":-0.009},{"s":3,"d":-20,"v":-0.012},
{"s":3,"d":-20.5,"v":-0.005},{"s":3,"d":-21,"v":-0.012},{"s":3,"d":-21.5,"v":-0.01},{"s":3,"d":-22,"v":-0.016},{"s":3,"d":-22.5,"v":0.008},{"s":3,"d":-23,"v":0.005},{"s":3,"d":-23.5,"v":0.005},{"s":3,"d":-24,"v":-0.002},{"s":3,"d":-24.5,"v":0.001},{"s":3,"d":-25,"v":0.001},
{"s":3,"d":-25.5,"v":0},{"s":3,"d":-26,"v":0.005},{"s":3,"d":-26.5,"v":-0.009},{"s":3,"d":-27,"v":-0.012},{"s":3,"d":-27.5,"v":0.005},{"s":3,"d":-28,"v":-0.012},{"s":3,"d":-28.5,"v":0.008},{"s":3,"d":-29,"v":0.008},{"s":3,"d":-29.5,"v":0.012},{"s":3,"d":-30,"v":0.018},
{"s":3,"d":-30.5,"v":0.008},{"s":3,"d":-31,"v":0.008},{"s":3,"d":-31.5,"v":0.03},{"s":3,"d":-32,"v":0.022},{"s":3,"d":-32.5,"v":0.001},{"s":3,"d":-33,"v":0.008},{"s":3,"d":-33.5,"v":0.022},{"s":3,"d":-34,"v":0.025},{"s":3,"d":-34.5,"v":0.025},{"s":3,"d":-35,"v":0.022},
{"s":3,"d":-35.5,"v":0.018},{"s":3,"d":-36,"v":0.015},{"s":3,"d":-36.5,"v":0.015},{"s":3,"d":-37,"v":0.005},{"s":3,"d":-37.5,"v":-0.009},{"s":3,"d":-38,"v":0.008},{"s":3,"d":-38.5,"v":-0.009},{"s":3,"d":-39,"v":0.001},{"s":3,"d":-39.5,"v":0.008},{"s":3,"d":-40,"v":0.001},
{"s":3,"d":-40.5,"v":-0.005},{"s":3,"d":-41,"v":-0.033},{"s":3,"d":-41.5,"v":-0.02},{"s":3,"d":-42,"v":-0.015},{"s":3,"d":-42.5,"v":-0.012},{"s":3,"d":-43,"v":0.005},{"s":3,"d":-43.5,"v":0.018},{"s":3,"d":-44,"v":0.008},{"s":3,"d":-44.5,"v":0.008},{"s":3,"d":-45,"v":0.012},
{"s":3,"d":-45.5,"v":-0.009},{"s":3,"d":-46,"v":0.008},{"s":3,"d":-46.5,"v":0.001},{"s":3,"d":-47,"v":0.005},{"s":3,"d":-47.5,"v":0.012},{"s":3,"d":-48,"v":0.008},{"s":3,"d":-48.5,"v":-0.002},{"s":3,"d":-49,"v":0.045},{"s":3,"d":-49.5,"v":-0.002},{"s":3,"d":-50,"v":0.012},
{"s":3,"d":-50.5,"v":-0.073},{"s":3,"d":-51,"v":-0.019},
{"s":2,"d":-0.5,"v":-0.01},{"s":2,"d":-1,"v":0.008},{"s":2,"d":-1.5,"v":0.005},{"s":2,"d":-2,"v":0.001},{"s":2,"d":-2.5,"v":0},{"s":2,"d":-3,"v":-0.016},{"s":2,"d":-3.5,"v":0.005},{"s":2,"d":-4,"v":-0.014},{"s":2,"d":-4.5,"v":-0.016},{"s":2,"d":-5,"v":0.015},
{"s":2,"d":-5.5,"v":0.025},{"s":2,"d":-6,"v":0.012},{"s":2,"d":-6.5,"v":-0.002},{"s":2,"d":-7,"v":0.027},{"s":2,"d":-7.5,"v":0.028},{"s":2,"d":-8,"v":-0.01},{"s":2,"d":-8.5,"v":-0.005},{"s":2,"d":-9,"v":0.01},{"s":2,"d":-9.5,"v":0.025},{"s":2,"d":-10,"v":0.028},
{"s":2,"d":-10.5,"v":0.005},{"s":2,"d":-11,"v":-0.012},{"s":2,"d":-11.5,"v":-0.019},{"s":2,"d":-12,"v":-0.015},{"s":2,"d":-12.5,"v":-0.016},{"s":2,"d":-13,"v":-0.016},{"s":2,"d":-13.5,"v":-0.009},{"s":2,"d":-14,"v":-0.036},{"s":2,"d":-14.5,"v":-0.04},{"s":2,"d":-15,"v":-0.005},
{"s":2,"d":-15.5,"v":-0.002},{"s":2,"d":-16,"v":-0.05},{"s":2,"d":-16.5,"v":-0.026},{"s":2,"d":-17,"v":0.025},{"s":2,"d":-17.5,"v":0},{"s":2,"d":-18,"v":-0.012},{"s":2,"d":-18.5,"v":0.025},{"s":2,"d":-19,"v":0.022},{"s":2,"d":-19.5,"v":0.015},{"s":2,"d":-20,"v":0.012},
{"s":2,"d":-20.5,"v":0.015},{"s":2,"d":-21,"v":0.015},{"s":2,"d":-21.5,"v":0.018},{"s":2,"d":-22,"v":0.028},{"s":2,"d":-22.5,"v":0.032},{"s":2,"d":-23,"v":-0.009},{"s":2,"d":-23.5,"v":-0.016},{"s":2,"d":-24,"v":-0.012},{"s":2,"d":-24.5,"v":0.028},{"s":2,"d":-25,"v":-0.009},
{"s":2,"d":-25.5,"v":-0.043},{"s":2,"d":-26,"v":-0.026},{"s":2,"d":-26.5,"v":-0.033},{"s":2,"d":-27,"v":-0.033},{"s":2,"d":-27.5,"v":-0.016},{"s":2,"d":-28,"v":-0.026},{"s":2,"d":-28.5,"v":-0.012},{"s":2,"d":-29,"v":-0.005},{"s":2,"d":-29.5,"v":-0.009},{"s":2,"d":-30,"v":-0.005},
{"s":2,"d":-30.5,"v":-0.009},{"s":2,"d":-31,"v":0.025},{"s":2,"d":-31.5,"v":0.039},{"s":2,"d":-32,"v":0.005},{"s":2,"d":-32.5,"v":-0.019},{"s":2,"d":-33,"v":-0.009},{"s":2,"d":-33.5,"v":-0.009},{"s":2,"d":-34,"v":-0.016},{"s":2,"d":-34.5,"v":-0.016},{"s":2,"d":-35,"v":0.001},
{"s":2,"d":-35.5,"v":0.001},{"s":2,"d":-36,"v":0.005},{"s":2,"d":-36.5,"v":0.005},{"s":2,"d":-37,"v":0.001},{"s":2,"d":-37.5,"v":0.005},{"s":2,"d":-38,"v":0.025},{"s":2,"d":-38.5,"v":-0.01},{"s":2,"d":-39,"v":-0.026},{"s":2,"d":-39.5,"v":-0.033},{"s":2,"d":-40,"v":-0.022},
{"s":2,"d":-40.5,"v":-0.036},{"s":2,"d":-41,"v":-0.056},{"s":2,"d":-41.5,"v":-0.05},{"s":2,"d":-42,"v":-0.053},{"s":2,"d":-42.5,"v":-0.056},{"s":2,"d":-43,"v":-0.056},{"s":2,"d":-43.5,"v":-0.036},{"s":2,"d":-44,"v":-0.03},{"s":2,"d":-44.5,"v":-0.029},{"s":2,"d":-45,"v":-0.026},
{"s":2,"d":-45.5,"v":-0.026},{"s":2,"d":-46,"v":-0.01},{"s":2,"d":-46.5,"v":-0.012},{"s":2,"d":-47,"v":0.001},{"s":2,"d":-47.5,"v":-0.002},{"s":2,"d":-48,"v":-0.005},{"s":2,"d":-48.5,"v":-0.033},{"s":2,"d":-49,"v":-0.009},{"s":2,"d":-49.5,"v":-0.026},{"s":2,"d":-50,"v":-0.012},
{"s":2,"d":-50.5,"v":-0.019},{"s":2,"d":-51,"v":-0.019}
]},
"resolve":{"axis":{"x":"independent","y":"independent"}},
"layer":[
{"data":{"values":[{"x":0,"y1":0,"y2":-51.5}]},
 "mark":{"type":"rule","color":"#c8c8c8","strokeWidth":1},
 "encoding":{
  "x":{"field":"x","type":"quantitative","scale":{"domain":[-1,1],"nice":false,"zero":false},
   "axis":{"orient":"bottom","values":[-0.975,-0.825,-0.675,-0.525,-0.375,-0.225,-0.075,0.075,0.225,0.375,0.525,0.675,0.825,0.975],"labels":false,"tickSize":5,"domain":false,"title":null,"grid":false}},
  "y":{"field":"y1","type":"quantitative","scale":{"domain":[-51.5,0],"nice":false,"zero":false},
   "axis":{"orient":"left","values":[-1,-3,-5,-7,-9,-11,-13,-15,-17,-19,-21,-23,-25,-27,-29,-31,-33,-35,-37,-39,-41,-43,-45,-47,-49,-51],"labels":false,"tickSize":5,"domain":false,"title":null,"grid":false}},
  "y2":{"field":"y2"}}},
{"data":{"name":"pts"},
 "transform":[{"lookup":"s","from":{"data":{"name":"series"},"key":"s","fields":["name"]}}],
 "mark":{"type":"line","strokeWidth":1},
 "encoding":{
  "x":{"field":"v","type":"quantitative",
   "axis":{"orient":"bottom","values":[-0.9,-0.75,-0.6,-0.45,-0.3,-0.15,0,0.15,0.3,0.45,0.6,0.75,0.9],"format":".2f","title":"Incremental Displacement (mm)","grid":true,"tickSize":8,"labelPadding":6,"titlePadding":5,"domainWidth":1.5}},
  "y":{"field":"d","type":"quantitative",
   "axis":{"orient":"left","values":[0,-2,-4,-6,-8,-10,-12,-14,-16,-18,-20,-22,-24,-26,-28,-30,-32,-34,-36,-38,-40,-42,-44,-46,-48,-50],"format":".1f","title":"Depth (meters)","grid":true,"tickSize":7,"labelPadding":6,"titlePadding":6,"domainWidth":1.5}},
  "order":{"field":"d","type":"quantitative","sort":"descending"},
  "color":{"field":"name","type":"nominal",
   "scale":{"domain":["sci-29 (0.5m)(12) 10-Apr-17","sci-29 (0.5m)(11) 14-Mar-17","sci-29 (0.5m)(9) 06-Feb-17","sci-29 (0.5m)(8) 13-Dec-16","sci-29 (0.5m)(7) 10-Nov-16","sci-29 (0.5m)(6) 05-Oct-16","sci-29 (0.5m)(5) 08-Sep-16","sci-29 (0.5m)(4) 10-Aug-16","sci-29 (0.5m)(3) 18-Jul-16","sci-29 (0.5m)(2) 11-Jul-16"],
    "range":["#9a32ff","#3cc8c8","#3399ff","#2222e0","#99cc22","#669999","#44cc44","#108810","#ff2020","#8f2a2a"]},
   "legend":{"encode":{"symbols":{"update":{"shape":{"signal":"datum.value === 'sci-29 (0.5m)(12) 10-Apr-17' ? 'M-1,0H-0.27M0.27,0H1M-0.27,-0.27H0.27V0.27H-0.27Z' : 'M-1,0H-0.27M0.27,0H1M0.27,0A0.27,0.27,0,1,1,-0.27,0A0.27,0.27,0,1,1,0.27,0Z'"}}}}}}}},
{"data":{"name":"pts"},
 "transform":[{"filter":"datum.s == 12"},{"lookup":"s","from":{"data":{"name":"series"},"key":"s","fields":["name"]}}],
 "mark":{"type":"point","shape":"square","filled":false,"size":48,"strokeWidth":1,"opacity":1},
 "encoding":{
  "x":{"field":"v","type":"quantitative",
   "axis":{"orient":"bottom","values":[-0.975,-0.9,-0.825,-0.75,-0.675,-0.6,-0.525,-0.45,-0.375,-0.3,-0.225,-0.15,-0.075,0,0.075,0.15,0.225,0.3,0.375,0.45,0.525,0.6,0.675,0.75,0.825,0.9,0.975],"labels":false,"tickSize":-6,"domain":false,"title":null,"grid":false}},
  "y":{"field":"d","type":"quantitative",
   "axis":{"orient":"left","values":[0,-1,-2,-3,-4,-5,-6,-7,-8,-9,-10,-11,-12,-13,-14,-15,-16,-17,-18,-19,-20,-21,-22,-23,-24,-25,-26,-27,-28,-29,-30,-31,-32,-33,-34,-35,-36,-37,-38,-39,-40,-41,-42,-43,-44,-45,-46,-47,-48,-49,-50,-51],"labels":false,"tickSize":-6,"domain":false,"title":null,"grid":false}},
  "color":{"field":"name","type":"nominal",
   "legend":{"encode":{"symbols":{"update":{"shape":{"signal":"datum.value === 'sci-29 (0.5m)(12) 10-Apr-17' ? 'M-1,0H-0.27M0.27,0H1M-0.27,-0.27H0.27V0.27H-0.27Z' : 'M-1,0H-0.27M0.27,0H1M0.27,0A0.27,0.27,0,1,1,-0.27,0A0.27,0.27,0,1,1,0.27,0Z'"}}}}}}}},
{"data":{"name":"pts"},
 "transform":[{"filter":"datum.s != 12"},{"lookup":"s","from":{"data":{"name":"series"},"key":"s","fields":["name"]}}],
 "mark":{"type":"point","shape":"circle","filled":false,"size":48,"strokeWidth":1,"opacity":1},
 "encoding":{
  "x":{"field":"v","type":"quantitative",
   "axis":{"orient":"top","values":[-0.975,-0.9,-0.825,-0.75,-0.675,-0.6,-0.525,-0.45,-0.375,-0.3,-0.225,-0.15,-0.075,0,0.075,0.15,0.225,0.3,0.375,0.45,0.525,0.6,0.675,0.75,0.825,0.9,0.975],"labels":false,"tickSize":-6,"domain":true,"domainWidth":1.5,"title":null,"grid":false}},
  "y":{"field":"d","type":"quantitative",
   "axis":{"orient":"right","values":[0,-1,-2,-3,-4,-5,-6,-7,-8,-9,-10,-11,-12,-13,-14,-15,-16,-17,-18,-19,-20,-21,-22,-23,-24,-25,-26,-27,-28,-29,-30,-31,-32,-33,-34,-35,-36,-37,-38,-39,-40,-41,-42,-43,-44,-45,-46,-47,-48,-49,-50,-51],"labels":false,"tickSize":-6,"domain":true,"domainWidth":1.5,"title":null,"grid":false}},
  "color":{"field":"name","type":"nominal",
   "legend":{"encode":{"symbols":{"update":{"shape":{"signal":"datum.value === 'sci-29 (0.5m)(12) 10-Apr-17' ? 'M-1,0H-0.27M0.27,0H1M-0.27,-0.27H0.27V0.27H-0.27Z' : 'M-1,0H-0.27M0.27,0H1M0.27,0A0.27,0.27,0,1,1,-0.27,0A0.27,0.27,0,1,1,0.27,0Z'"}}}}}}}}
]
}
